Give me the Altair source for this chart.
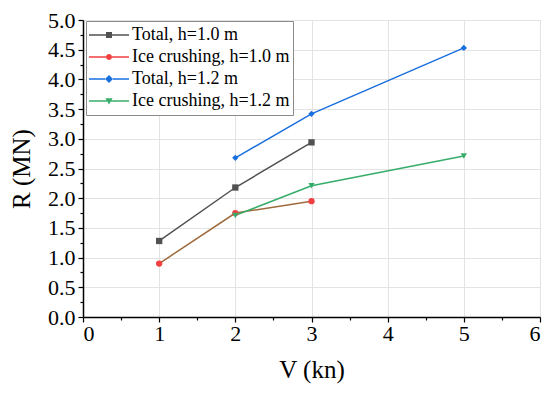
import altair as alt
import pandas as pd

series_names = ["Total, h=1.0 m", "Ice crushing, h=1.0 m", "Total, h=1.2 m", "Ice crushing, h=1.2 m"]
V_total_10 = [1, 2, 3]
R_total_10 = [1.28, 2.18, 2.94]
V_ice_10 = [1, 2, 3]
R_ice_10 = [0.90, 1.75, 1.95]
V_total_12 = [2, 3, 5]
R_total_12 = [2.68, 3.42, 4.53]
V_ice_12 = [2, 3, 5]
R_ice_12 = [1.71, 2.21, 2.71]

x_ticks = [0, 1, 2, 3, 4, 5, 6]
x_minor = [0.5, 1.5, 2.5, 3.5, 4.5, 5.5]
y_ticks = [0.0, 0.5, 1.0, 1.5, 2.0, 2.5, 3.0, 3.5, 4.0, 4.5, 5.0]
y_minor = [0.25, 0.75, 1.25, 1.75, 2.25, 2.75, 3.25, 3.75, 4.25, 4.75]

colors = ["#515151", "#F14040", "#1A6FDF", "#37AD6B"]
line_colors = ["#515151", "#9E6A3C", "#1A6FDF", "#37AD6B"]

rows = []
for name, vs, rs in zip(series_names,
                        [V_total_10, V_ice_10, V_total_12, V_ice_12],
                        [R_total_10, R_ice_10, R_total_12, R_ice_12]):
    for v, r in zip(vs, rs):
        rows.append({"V": v, "R": r, "series": name})
df = pd.DataFrame(rows)

FONT = "Liberation Serif"

xscale = alt.Scale(domain=[0, 6], nice=False)
yscale = alt.Scale(domain=[0, 5], nice=False)

main_x_axis = alt.Axis(values=x_ticks, format="d", title="V (kn)", grid=True,
                       gridColor="#e3e3e3", gridWidth=1, tickSize=5, tickColor="black",
                       tickWidth=1.2, domainColor="black", domainWidth=1.5,
                       labelFont=FONT, labelFontSize=22, labelColor="black", labelPadding=1,
                       titleFont=FONT, titleFontSize=25, titleFontWeight="normal",
                       titleColor="black", titlePadding=13, orient="bottom")
main_y_axis = alt.Axis(values=y_ticks, format=".1f", title="R (MN)", grid=True,
                       gridColor="#e3e3e3", gridWidth=1, tickSize=5, tickColor="black",
                       tickWidth=1.2, domainColor="black", domainWidth=1.5,
                       labelFont=FONT, labelFontSize=22, labelColor="black", labelPadding=3,
                       titleFont=FONT, titleFontSize=25, titleFontWeight="normal",
                       titleColor="black", titlePadding=13, orient="left")
minor_x_axis = alt.Axis(values=x_minor, labels=False, grid=False, domain=False, tickSize=3,
                        tickColor="black", tickWidth=1.2, title=None, orient="bottom")
minor_y_axis = alt.Axis(values=y_minor, labels=False, grid=False, domain=False, tickSize=3,
                        tickColor="black", tickWidth=1.2, title=None, orient="left")

marker_shapes = ["square", "circle", "diamond", "triangle-down"]
legend_shapes = [
    "M-1,-0.04H-0.15V0.04H-1Z M0.15,-0.04H1V0.04H0.15Z M-0.15,-0.15H0.15V0.15H-0.15Z",
    "M-1,-0.04H-0.15V0.04H-1Z M0.15,-0.04H1V0.04H0.15Z M-0.15,0A0.15,0.15 0 1,0 0.15,0A0.15,0.15 0 1,0 -0.15,0Z",
    "M-1,-0.04H-0.2V0.04H-1Z M0.2,-0.04H1V0.04H0.2Z M0,-0.2L0.2,0L0,0.2L-0.2,0Z",
    "M-1,-0.04H-0.1V0.04H-1Z M0.1,-0.04H1V0.04H0.1Z M-0.18,-0.14L0.18,-0.14L0,0.17Z",
]

legend_props = dict(title=None, orient="none", legendX=3, legendY=1,
                    labelFont=FONT, labelFontSize=18, labelColor="black",
                    symbolSize=1600, symbolOpacity=1, symbolStrokeWidth=0,
                    clipHeight=22, rowPadding=0, labelOffset=3,
                    padding=3, strokeColor="#8a8a8a", fillColor="white",
                    labelLimit=300)

base = alt.Chart(df)

lines = base.mark_line(strokeWidth=1.5).encode(
    x=alt.X("V:Q", scale=xscale, axis=main_x_axis),
    y=alt.Y("R:Q", scale=yscale, axis=main_y_axis),
    color=alt.Color("series:N", scale=alt.Scale(domain=series_names, range=line_colors), legend=None),
    order="V:Q",
)

points = base.mark_point(filled=True, opacity=1, size=40).encode(
    x=alt.X("V:Q", scale=xscale, axis=None),
    y=alt.Y("R:Q", scale=yscale, axis=None),
    color=alt.Color("series:N", scale=alt.Scale(domain=series_names, range=colors), legend=None),
    shape=alt.Shape("series:N", scale=alt.Scale(domain=series_names, range=marker_shapes), legend=None),
)

legend_layer = base.mark_point(filled=True, opacity=0, size=1600).encode(
    x=alt.X("V:Q", scale=xscale, axis=None),
    y=alt.Y("R:Q", scale=yscale, axis=None),
    color=alt.Color("series:N", scale=alt.Scale(domain=series_names, range=colors),
                    legend=alt.Legend(**legend_props)),
    shape=alt.Shape("series:N", scale=alt.Scale(domain=series_names, range=legend_shapes),
                    legend=alt.Legend(**legend_props)),
)

minor = base.mark_point(opacity=0).encode(
    x=alt.X("V:Q", scale=xscale, axis=minor_x_axis),
    y=alt.Y("R:Q", scale=yscale, axis=minor_y_axis),
)

chart = alt.layer(minor, lines, points, legend_layer).resolve_scale(
    color="independent", shape="independent"
).resolve_axis(
    x="independent", y="independent"
).properties(
    width=457, height=297,
    autosize=alt.AutoSizeParams(type="none"),
    padding={"left": 75, "top": 12, "right": 2, "bottom": 68},
).configure_view(
    stroke="black", strokeWidth=1.5
).configure(background="white")

chart.save("out.html", embed_options={"renderer": "svg", "actions": False})
